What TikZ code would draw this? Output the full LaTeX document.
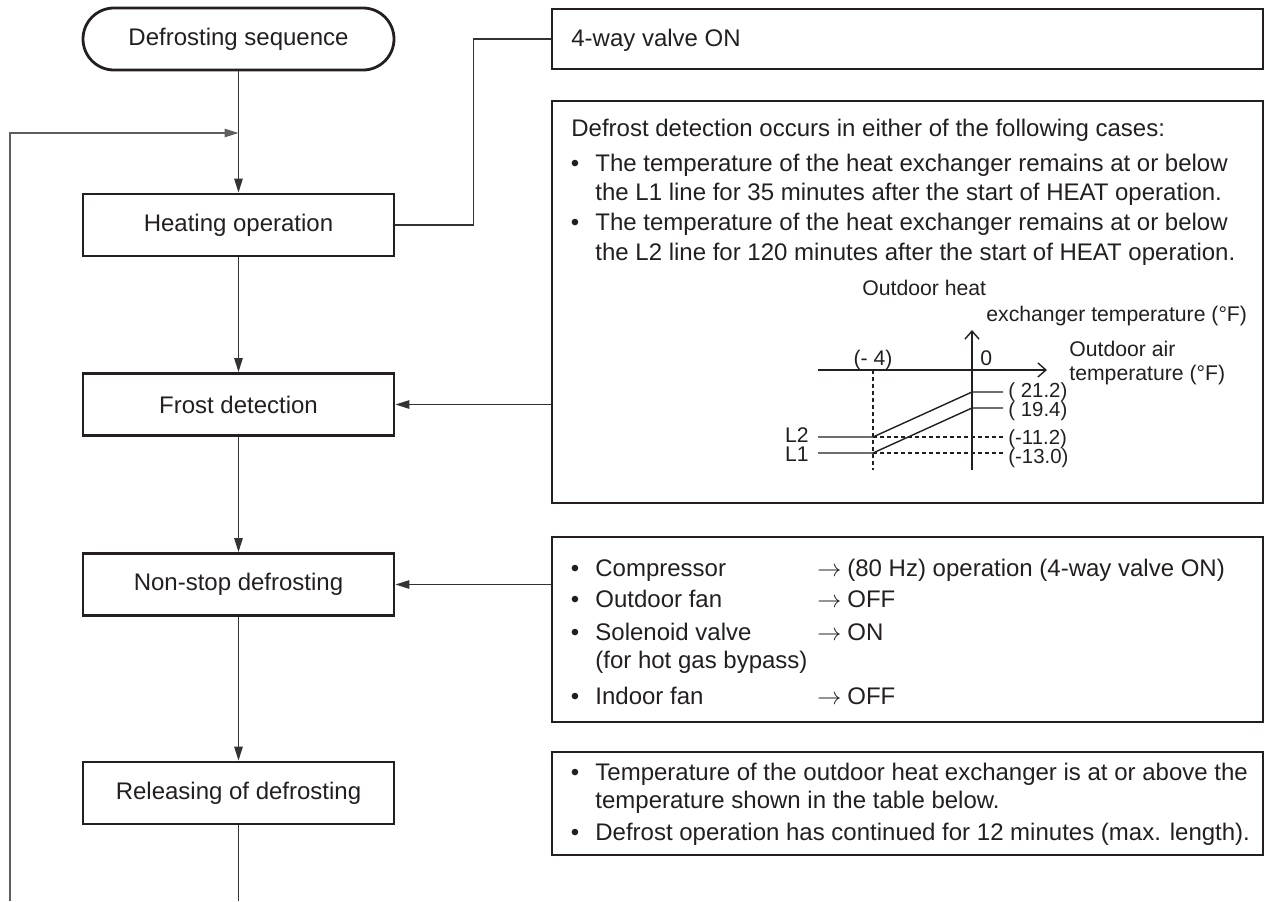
\documentclass[tikz,border=0pt]{standalone}
\usepackage{fontspec}
\setmainfont{Liberation Sans}
\usetikzlibrary{arrows.meta,fit}
\definecolor{ink}{HTML}{231F20}
\definecolor{wire}{HTML}{333333}
\definecolor{loopgray}{HTML}{5E5E5E}
\newcommand{\mainsz}{\fontsize{12}{15}\selectfont}
\newcommand{\graphsz}{\fontsize{10.6}{12}\selectfont}
\newcommand{\numsz}{\fontsize{10.2}{12}\selectfont}
\begin{document}
\begin{tikzpicture}[x=0.5pt,y=-0.5pt,
  every node/.style={text=ink},
  stepbox/.style={draw=ink, line width=1.4pt, rectangle, minimum width=155.5pt, minimum height=31pt, inner sep=0pt, font=\mainsz},
  termbox/.style={stepbox, rounded corners=15.5pt},
  infobox/.style={draw=ink, line width=1.4pt, rectangle, inner sep=0pt},
  wireline/.style={draw=wire, line width=0.8pt},
  flowarrow/.style={-{Triangle[length=7pt,width=4.2pt]}},
  txt/.style={anchor=base west, inner sep=0pt, font=\mainsz},
  bul/.style={anchor=base, inner sep=0pt, font=\mainsz},
  gtxt/.style={anchor=base west, inner sep=0pt, font=\graphsz},
  ntxt/.style={anchor=base west, inner sep=0pt, font=\numsz},
  gline/.style={draw=ink, line width=0.7pt},
  gdash/.style={gline, dash pattern=on 2pt off 1.5pt},
  axisarrow/.style={-{Straight Barb[length=4pt,width=7pt]}}
]
\useasboundingbox (0,0) rectangle (1265,901);

% flowchart boxes
\node[termbox] (start) at (238.5,39) {Defrosting sequence};
\node[stepbox] (heat) at (238.5,225) {Heating operation};
\node[stepbox] (frost) at (238.5,404.5) {Frost detection};
\node[stepbox] (nonstop) at (238.5,584.5) {Non-stop defrosting};
\node[stepbox] (release) at (238.5,793) {Releasing of defrosting};

% info boxes
\node[infobox, fit={(552,9)(1263,69)}] (valve) {};
\node[infobox, fit={(552,101)(1263,503)}] (detect) {};
\node[infobox, fit={(552,537)(1263,722)}] (ops) {};
\node[infobox, fit={(552,752)(1263,855)}] (cond) {};

% connectors
\coordinate (join) at (238.5,133);
\coordinate (loopbot) at (10,901);
\coordinate (relbot) at (238.5,901);
\draw[wireline, flowarrow] (start.south) -- (heat.north);
\draw[wireline, draw=loopgray, flowarrow] (loopbot) |- (join);
\draw[wireline, flowarrow] (heat.south) -- (frost.north);
\draw[wireline, flowarrow] (frost.south) -- (nonstop.north);
\draw[wireline, flowarrow] (nonstop.south) -- (release.north);
\draw[wireline] (release.south) -- (relbot);
\draw[wireline] (heat.east) -- ++(78,0) |- (valve.west);
\draw[wireline, flowarrow] (detect.west |- frost.east) -- (frost.east);
\draw[wireline, flowarrow] (ops.west |- nonstop.east) -- (nonstop.east);

% 4-way valve text
\node[txt] at (571,46) {4-way valve ON};

% defrost detection text
\node[txt] at (571,136) {Defrost detection occurs in either of the following cases:};
\node[bul] at (575,171.5) {•};
\node[txt] at (595,171.5) {The temperature of the heat exchanger remains at or below};
\node[txt] at (595,200.5) {the L1 line for 35 minutes after the start of HEAT operation.};
\node[bul] at (575,230.5) {•};
\node[txt] at (595,230.5) {The temperature of the heat exchanger remains at or below};
\node[txt] at (595,260) {the L2 line for 120 minutes after the start of HEAT operation.};

% graph
\node[gtxt] at (862,295.5) {Outdoor heat};
\node[gtxt] at (986,321.5) {exchanger temperature (°F)};
\node[gtxt] at (1069,356) {Outdoor air};
\node[gtxt] at (1069,380) {temperature (°F)};
\node[gtxt] at (980,365) {0};
\node[gtxt, anchor=base] at (873,365) {(- 4)};
\coordinate (ybot) at (972,470);
\coordinate (ytop) at (972,330);
\coordinate (xleft) at (818,370);
\coordinate (xright) at (1047,370);
\draw[gline, axisarrow] (ybot) -- (ytop);
\draw[gline, axisarrow] (xleft) -- (xright);
\draw[gdash] (873,370) -- (873,470);
\draw[gline] (818,437) -- (873,437) -- (972,392) -- (1003,392);
\draw[gline] (818,453) -- (873,453) -- (972,408) -- (1003,408);
\draw[gdash] (873,437) -- (1005,437);
\draw[gdash] (873,453) -- (1005,453);
\node[ntxt] at (1008,397) {( 21.2)};
\node[ntxt] at (1008,416) {( 19.4)};
\node[ntxt] at (1008,444) {(-11.2)};
\node[ntxt] at (1008,463) {(-13.0)};
\node[gtxt, anchor=base east] at (809,442) {L2};
\node[gtxt, anchor=base east] at (809,461) {L1};

% non-stop defrosting operations
\node[bul] at (575,576) {•};
\node[txt] at (595,576) {Compressor};
\node[txt] at (817,576) {$\rightarrow$};
\node[txt] at (847,576) {(80 Hz) operation (4-way valve ON)};
\node[bul] at (575,607.5) {•};
\node[txt] at (595,607.5) {Outdoor fan};
\node[txt] at (817,607.5) {$\rightarrow$};
\node[txt] at (847,607.5) {OFF};
\node[bul] at (575,640) {•};
\node[txt] at (595,640) {Solenoid valve};
\node[txt] at (817,640) {$\rightarrow$};
\node[txt] at (847,640) {ON};
\node[txt] at (595,668) {(for hot gas bypass)};
\node[bul] at (575,704) {•};
\node[txt] at (595,704) {Indoor fan};
\node[txt] at (817,704) {$\rightarrow$};
\node[txt] at (847,704) {OFF};

% releasing conditions
\node[bul] at (575,780) {•};
\node[txt] at (595,780) {Temperature of the outdoor heat exchanger is at or above the};
\node[txt] at (595,808) {temperature shown in the table below.};
\node[bul] at (575,840.5) {•};
\node[txt] at (595,840.5) {Defrost operation has continued for 12 minutes (max. length).};
\end{tikzpicture}
\end{document}
